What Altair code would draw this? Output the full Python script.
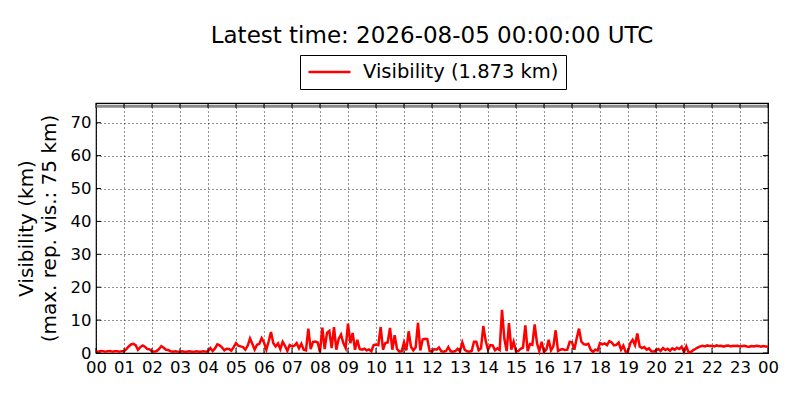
import altair as alt
import pandas as pd

# --- data (visibility in km, 5-minute samples per hour) ---
h00 = [0.5, 0.4, 0.6, 0.5, 0.4, 0.5, 0.6, 0.4, 0.5, 0.5, 0.4, 0.5]
h01 = [0.5, 1.2, 2.0, 2.6, 2.8, 2.4, 1.0, 1.8, 2.3, 1.9, 1.2, 1.1]
h02 = [0.5, 0.4, 0.6, 1.2, 2.1, 1.6, 1.0, 0.9, 0.5, 0.4, 0.5, 0.4]
h03 = [0.4, 0.5, 0.3, 0.4, 0.5, 0.4, 0.3, 0.5, 0.4, 0.4, 0.5, 0.4]
h04 = [0.5, 1.5, 0.6, 1.4, 2.6, 2.3, 1.7, 0.8, 1.3, 1.2, 0.7, 1.8]
h05 = [3.0, 2.2, 2.0, 1.8, 1.0, 2.2, 4.4, 2.8, 1.0, 2.5, 2.8, 4.5]
h06 = [3.2, 1.0, 3.5, 6.4, 3.0, 2.0, 2.9, 1.2, 3.4, 2.2, 0.6, 2.4]
h07 = [2.0, 2.2, 3.0, 1.4, 2.8, 1.0, 0.8, 7.4, 1.2, 3.4, 3.5, 3.2]
h08 = [0.3, 7.7, 1.2, 6.1, 6.7, 1.5, 7.9, 1.0, 4.3, 5.6, 3.0, 1.5]
h09 = [8.9, 3.0, 6.1, 1.0, 4.0, 1.2, 1.0, 1.3, 0.8, 1.1, 0.5, 2.4]
h10 = [2.6, 2.4, 7.9, 1.0, 3.0, 3.2, 7.6, 1.0, 5.4, 1.2, 0.4, 0.5]
h11 = [3.2, 0.8, 6.6, 1.9, 0.8, 1.7, 9.2, 0.8, 4.1, 4.3, 4.2, 0.6]
h12 = [0.5, 1.2, 1.0, 1.7, 0.5, 0.4, 0.6, 1.8, 0.5, 0.4, 0.6, 1.3]
h13 = [0.5, 3.2, 1.0, 0.5, 0.4, 0.6, 3.4, 3.4, 0.8, 1.4, 8.2, 3.7]
h14 = [1.0, 2.4, 2.3, 0.8, 1.4, 0.9, 13.1, 4.4, 0.6, 9.1, 1.0, 3.4]
h15 = [0.5, 0.6, 1.3, 1.6, 8.4, 0.6, 2.7, 2.5, 8.7, 3.0, 0.6, 3.4]
h16 = [0.3, 1.0, 4.0, 0.8, 2.0, 6.9, 0.6, 1.0, 1.2, 0.9, 1.0, 3.4]
h17 = [3.3, 1.0, 4.4, 7.4, 3.5, 2.7, 2.5, 2.8, 1.0, 0.3, 1.0, 0.8]
h18 = [3.0, 2.6, 2.9, 2.4, 3.6, 3.2, 2.3, 2.5, 3.2, 1.0, 2.2, 0.3]
h19 = [0.5, 3.0, 4.0, 2.4, 5.9, 2.0, 1.5, 1.8, 1.0, 1.4, 0.5, 0.4]
h20 = [0.8, 1.2, 0.6, 1.5, 0.9, 1.3, 0.7, 1.4, 1.0, 1.6, 1.2, 1.9]
h21 = [0.3, 2.0, 0.2, 0.3, 0.9, 1.3, 1.7, 2.0, 2.2, 2.0, 2.3, 2.1]
h22 = [2.2, 2.0, 2.3, 2.1, 2.2, 1.9, 2.2, 2.3, 2.0, 2.2, 2.1, 2.2]
h23 = [2.0, 2.1, 2.2, 2.0, 1.9, 2.1, 2.0, 2.2, 2.1, 1.9, 2.1, 2.0]
last_value = 1.873

hourly_values = [h00, h01, h02, h03, h04, h05, h06, h07, h08, h09, h10, h11,
                 h12, h13, h14, h15, h16, h17, h18, h19, h20, h21, h22, h23]

max_reported = [75]
x_tick_hours = list(range(0, 25))
y_tick_values = [0, 10, 20, 30, 40, 50, 60, 70]

title_text = "Latest time: 2026-08-05 00:00:00 UTC"
series_label = "Visibility (1.873 km)"
y_title = ["Visibility (km)", "(max. rep. vis.: 75 km)"]

# --- build tables ---
rows = []
for h, vals in enumerate(hourly_values):
    for k, v in enumerate(vals):
        rows.append({"hour": h + k * 5 / 60, "vis": v, "series": series_label})
rows.append({"hour": 24, "vis": last_value, "series": series_label})
df = pd.DataFrame(rows)

df_max = pd.DataFrame({"vis": max_reported})
df_xt = pd.DataFrame({"hour": x_tick_hours})
df_yt = pd.DataFrame({"vis": y_tick_values})

W, H = 672, 250
FONT = "DejaVu Sans"

x_scale = alt.Scale(domain=[0, 24], nice=False, zero=False)
y_scale = alt.Scale(domain=[0, 76], nice=False)

x_axis = alt.Axis(
    title="",
    values=x_tick_hours,
    labelExpr="(datum.value % 24 < 10 ? '0' : '') + (datum.value % 24)",
    labelFlush=False,
    labelOverlap=False,
    labelPadding=6,
    gridDash=[1, 3],
)
y_axis = alt.Axis(
    title=y_title,
    values=y_tick_values,
    labelPadding=5,
    titlePadding=11,
    gridDash=[1, 3],
)

X = alt.X("hour:Q", scale=x_scale, axis=x_axis)
Y = alt.Y("vis:Q", scale=y_scale, axis=y_axis)

line = alt.Chart(df).mark_line(strokeWidth=2.5, strokeJoin="miter").encode(
    x=X,
    y=Y,
    color=alt.Color(
        "series:N",
        scale=alt.Scale(range=["#ff0000"]),
        legend=alt.Legend(
            orient="none",
            legendX=204,
            legendY=-48,
            title="",
            symbolType="stroke",
            symbolSize=1764,
            symbolStrokeWidth=2.5,
            clipHeight=20,
            labelFontSize=19.5,
            labelFont=FONT,
            labelColor="black",
            labelLimit=400,
            labelOffset=11,
            strokeColor="black",
            fillColor="white",
            padding=7,
            cornerRadius=0,
        ),
    ),
)

max_line = alt.Chart(df_max).mark_rule(color="#8a8a8a", strokeWidth=3).encode(y=Y)

x_ticks_bottom = alt.Chart(df_xt).mark_rule(color="black", strokeWidth=1).encode(
    x=X, y=alt.value(H), y2=alt.value(H - 5)
)
x_ticks_top = alt.Chart(df_xt).mark_rule(color="black", strokeWidth=1).encode(
    x=X, y=alt.value(0), y2=alt.value(5)
)
y_ticks_left = alt.Chart(df_yt).mark_rule(color="black", strokeWidth=1).encode(
    y=Y, x=alt.value(0), x2=alt.value(5)
)
y_ticks_right = alt.Chart(df_yt).mark_rule(color="black", strokeWidth=1).encode(
    y=Y, x=alt.value(W), x2=alt.value(W - 5)
)

chart = alt.layer(
    max_line, line, x_ticks_bottom, x_ticks_top, y_ticks_left, y_ticks_right
).properties(
    width=W,
    height=H,
    background="white",
    padding={"left": 88, "top": 95, "right": 24, "bottom": 39},
    autosize=alt.AutoSizeParams(type="none"),
    title=alt.Title(
        title_text,
        fontSize=23,
        font=FONT,
        fontWeight="normal",
        color="black",
        anchor="middle",
        frame="group",
        offset=7,
    ),
).configure_view(
    stroke="black", strokeWidth=1.2
).configure_axis(
    labelFont=FONT,
    labelFontSize=16.5,
    labelColor="black",
    titleFont=FONT,
    titleFontSize=20,
    titleFontWeight="normal",
    titleColor="black",
    titleLineHeight=23,
    ticks=False,
    domain=False,
    grid=True,
    gridColor="black",
    gridOpacity=0.85,
    gridWidth=1,
)

chart.save("out.html", embed_options={"renderer": "svg", "actions": False})
